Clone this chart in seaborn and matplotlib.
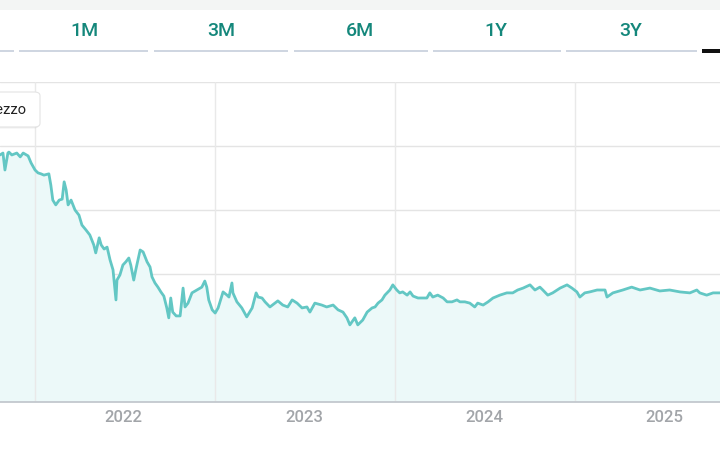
import matplotlib
matplotlib.use("Agg")
import matplotlib.pyplot as plt
import seaborn as sns
import pandas as pd
import numpy as np
from matplotlib.patches import Rectangle, FancyBboxPatch

# ---------------- data ----------------
start_date = "2021-10-23"
day_offsets = [0, 6, 10, 16, 18, 24, 34, 41, 47, 57, 63, 71, 77, 83, 89, 99, 103, 107, 113, 120,
               126, 130, 134, 138, 144, 152, 160, 166, 174, 182, 190, 194, 201, 205, 211, 217, 223, 229, 233, 235,
               237, 243, 249, 255, 261, 265, 271, 276, 284, 290, 298, 304, 308, 314, 320, 326, 332, 338, 342, 346,
               350, 357, 365, 371, 375, 381, 389, 399, 409, 415, 419, 423, 430, 436, 442, 452, 460, 464, 470, 472,
               480, 490, 500, 511, 519, 523, 531, 537, 547, 557, 563, 573, 583, 592, 602, 612, 622, 628, 638, 652,
               662, 675, 685, 695, 703, 709, 719, 725, 735, 744, 754, 760, 766, 774, 780, 790, 796, 804, 810, 816,
               825, 831, 837, 847, 857, 865, 871, 877, 887, 898, 906, 916, 926, 932, 942, 952, 962, 968, 979, 989,
               999, 1013, 1027, 1039, 1049, 1060, 1074, 1084, 1094, 1100, 1110, 1120, 1135, 1149, 1159, 1169, 1175, 1185, 1195, 1210,
               1226, 1230, 1242, 1262, 1280, 1297, 1317, 1337, 1357, 1378, 1398, 1412, 1418, 1432, 1445, 1459]
prices = [77.2, 77.8, 72.5, 77.8, 78.1, 77.2, 77.8, 76.6, 77.8, 76.9, 74.7, 72.5, 71.6, 71.3, 70.9, 71.3, 67.8, 63.1, 61.6, 63.1,
          63.4, 68.8, 66.3, 61.6, 63.1, 60.0, 58.4, 55.3, 53.8, 52.2, 49.1, 46.6, 51.3, 49.1, 47.8, 48.4, 44.4, 41.3, 35.0, 31.9,
          38.1, 39.7, 42.8, 43.8, 45.0, 42.8, 38.1, 41.9, 47.5, 46.9, 43.8, 42.2, 39.1, 37.2, 35.9, 34.4, 33.1, 29.4, 26.3, 32.5,
          28.1, 26.9, 26.9, 35.6, 29.7, 30.9, 34.1, 35.0, 35.9, 37.8, 35.9, 31.9, 28.8, 27.8, 29.4, 34.4, 33.4, 32.8, 37.2, 34.1,
          31.3, 29.4, 26.6, 29.4, 34.1, 32.8, 32.5, 31.3, 29.7, 30.9, 31.6, 30.3, 29.7, 31.9, 30.9, 29.4, 29.7, 28.1, 30.9, 30.3,
          29.7, 30.3, 28.8, 28.1, 26.3, 24.1, 26.3, 24.1, 25.6, 28.1, 29.4, 29.7, 30.9, 31.9, 33.4, 35.0, 36.6, 35.0, 34.1, 34.4,
          33.4, 34.4, 33.1, 32.5, 32.5, 32.5, 34.1, 32.8, 33.4, 32.5, 31.3, 31.3, 31.9, 31.3, 31.3, 30.9, 29.7, 30.9, 30.3, 31.3,
          32.5, 33.4, 34.1, 34.1, 35.0, 35.6, 36.6, 35.0, 35.9, 35.0, 33.4, 34.1, 35.6, 36.6, 35.6, 34.4, 32.8, 34.1, 34.4, 35.0,
          35.0, 32.8, 34.1, 35.0, 35.9, 35.0, 35.6, 34.7, 35.0, 34.4, 34.1, 35.0, 34.1, 33.4, 34.1, 34.1]
year_labels = ["2022", "2023", "2024", "2025"]
tab_labels = ["1M", "3M", "6M", "1Y", "3Y"]
series_name = "Prezzo"

# ---------------- style ----------------
sns.set_style("white")
plt.rcParams["font.family"] = ["Roboto", "DejaVu Sans"]

W, H = 720, 453
fig = plt.figure(figsize=(W / 100, H / 100), dpi=100)
fig.patch.set_facecolor("white")

def fx(x):
    return x / W

def fy(y):
    return 1 - y / H

# plot area: x 0..720, y 82..402
ax = fig.add_axes([0, fy(402), 1, (402 - 82) / H])
ax.set_facecolor("white")

dates = pd.Timestamp(start_date) + pd.to_timedelta(day_offsets, unit="D")
df = pd.DataFrame({"date": dates, "price": prices})

line_color = "#63c7c4"
ax.fill_between(df["date"], df["price"], 0, color="#ecf9f9", zorder=1, linewidth=0)
sns.lineplot(data=df, x="date", y="price", ax=ax, color=line_color, linewidth=2.0, zorder=3)

ax.set_xlim(pd.Timestamp(start_date), pd.Timestamp(start_date) + pd.Timedelta(days=1459))
ax.set_ylim(0, 100)

# gridlines
for v in [20, 40, 60, 80, 100]:
    ax.axhline(v, color="#e4e4e4", linewidth=1.0, zorder=0.5)
for yl in year_labels:
    ax.axvline(pd.Timestamp(f"{yl}-01-01"), color="#e9e9e9", linewidth=1.0, zorder=2)

# ticks: labels at mid-year
ax.set_xticks([pd.Timestamp(f"{yl}-07-01") for yl in year_labels])
ax.set_xticklabels(year_labels)
ax.tick_params(axis="x", length=0, pad=6, labelsize=12, labelcolor="#a2a5a9")
for lbl in ax.get_xticklabels():
    lbl.set_fontweight("medium")
ax.set_yticks([])
ax.set_xlabel("")
ax.set_ylabel("")

for s in ["top", "left", "right"]:
    ax.spines[s].set_visible(False)
ax.spines["bottom"].set_color("#c3c8ce")
ax.spines["bottom"].set_linewidth(1.3)
ax.spines["bottom"].set_zorder(4)

# ---------------- header with tabs ----------------
fig.add_artist(Rectangle((0, fy(10)), 1, 10 / H, transform=fig.transFigure,
                         facecolor="#f3f5f4", edgecolor="none"))

tab_centers = [84, 221, 360, 496, 631]
segments = [(0, 14), (19, 148), (154, 288), (294, 428), (433, 561), (566, 697)]
for (a, b) in segments:
    fig.add_artist(Rectangle((fx(a), fy(52)), (b - a) / W, 2 / H, transform=fig.transFigure,
                             facecolor="#cfd6e1", edgecolor="none"))
fig.add_artist(Rectangle((fx(702), fy(52.5)), (720 - 702) / W, 3 / H, transform=fig.transFigure,
                         facecolor="#111111", edgecolor="none"))
for lab, cx in zip(tab_labels, tab_centers):
    fig.text(fx(cx), fy(31), lab, ha="center", va="center", fontsize=14,
             color="#14877b", fontweight="medium")

# ---------------- legend box (clipped at left edge, as in the reference) ----------------
shadow = FancyBboxPatch((fx(-30), fy(128.5)), 69 / W, 35 / H,
                        boxstyle="round,pad=0,rounding_size=0.008",
                        transform=fig.transFigure, facecolor="#000000", alpha=0.06,
                        edgecolor="none", zorder=5)
fig.add_artist(shadow)
box = FancyBboxPatch((fx(-30), fy(127)), 70 / W, 35 / H,
                     boxstyle="round,pad=0,rounding_size=0.008",
                     transform=fig.transFigure, facecolor="white",
                     edgecolor="#e4e4e4", linewidth=0.8, zorder=6)
fig.add_artist(box)
fig.text(fx(27), fy(110), series_name, ha="right", va="center", fontsize=10.5,
         color="#222222", zorder=7)

fig.savefig("out.png", dpi=100, facecolor="white")
